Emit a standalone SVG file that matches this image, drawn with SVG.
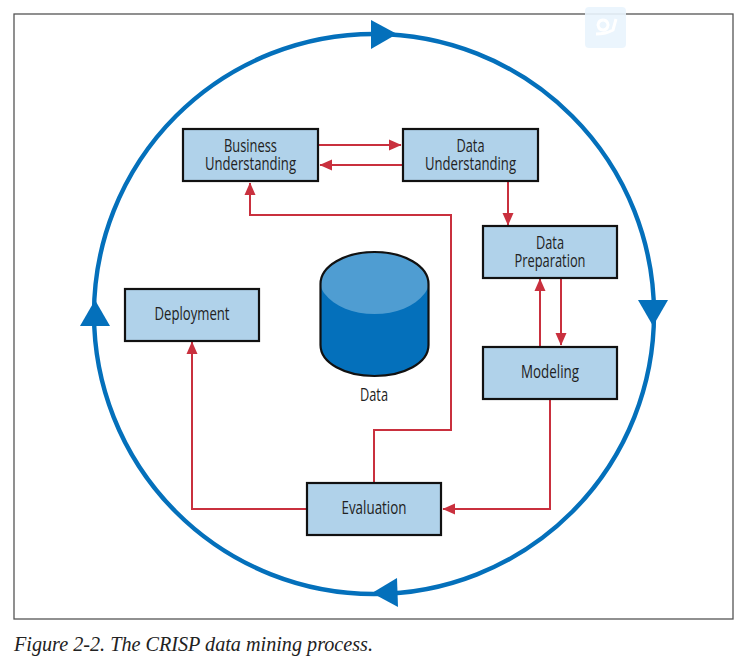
<svg xmlns="http://www.w3.org/2000/svg" width="745" height="661" viewBox="0 0 745 661">
<style>
.box{fill:#b0d2ea;stroke:#111;stroke-width:2.2}
.lbl{font-family:"Open Sans","Liberation Sans",sans-serif;font-size:17.5px;fill:#222;text-anchor:middle}
.red{fill:none;stroke:#c9303e;stroke-width:2}
.ring{fill:none;stroke:#0470bb;stroke-width:4.4}
.tri{fill:#0470bb}
</style>
<defs>
<marker id="ah" markerUnits="userSpaceOnUse" markerWidth="14" markerHeight="14" refX="12" refY="7" orient="auto"><path d="M0 1.500 L12.500 7 L0 12.500 Z" fill="#c9303e"/></marker>
</defs>
<rect width="745" height="661" fill="#fff"/>
<rect x="14" y="14" width="719" height="605" fill="#fff" stroke="#555" stroke-width="1.3"/>
<g id="watermark"><rect x="585" y="7" width="41" height="41" rx="4" fill="#e9f4fd" fill-opacity="0.9"/>
<path d="M596 34 Q606 34 613 30 L616 19 M603 20 a5 5 0 1 0 0.100 0" fill="none" stroke="#fff" stroke-width="3"/></g>
<g id="cycle">
<circle class="ring" cx="374" cy="314" r="280"/>
<polygon class="tri" points="397,34 371,20 371,49"/>
<polygon class="tri" points="653,326 638,300 668,300"/>
<polygon class="tri" points="372,593 397,578 398,607"/>
<polygon class="tri" points="95,300 80,326 110,326"/>
</g>
<g id="connectors">
<path class="red" marker-end="url(#ah)" d="M318 145 H401"/>
<path class="red" marker-end="url(#ah)" d="M402 165 H320"/>
<path class="red" marker-end="url(#ah)" d="M508 181 V225"/>
<path class="red" marker-end="url(#ah)" d="M540 346 V279"/>
<path class="red" marker-end="url(#ah)" d="M561 278 V345"/>
<path class="red" marker-end="url(#ah)" d="M550 398 V509 H443"/>
<path class="red" marker-end="url(#ah)" d="M374 483 V430 H451 V215 H250 V183"/>
<path class="red" marker-end="url(#ah)" d="M307 509 H192 V342"/>
</g>
<g id="business"><rect class="box" x="183" y="129" width="135" height="52"/><text class="lbl" x="250.500" y="152" textLength="53" lengthAdjust="spacingAndGlyphs">Business</text><text class="lbl" x="250.500" y="170" textLength="91" lengthAdjust="spacingAndGlyphs">Understanding</text></g>
<g id="understanding"><rect class="box" x="403" y="129" width="135" height="52"/><text class="lbl" x="470.500" y="152" textLength="28" lengthAdjust="spacingAndGlyphs">Data</text><text class="lbl" x="470.500" y="170" textLength="91" lengthAdjust="spacingAndGlyphs">Understanding</text></g>
<g id="preparation"><rect class="box" x="483" y="226" width="134" height="52"/><text class="lbl" x="550" y="249" textLength="28" lengthAdjust="spacingAndGlyphs">Data</text><text class="lbl" x="550" y="267" textLength="71" lengthAdjust="spacingAndGlyphs">Preparation</text></g>
<g id="modeling"><rect class="box" x="483" y="347" width="134" height="52"/><text class="lbl" x="550" y="378" textLength="58" lengthAdjust="spacingAndGlyphs">Modeling</text></g>
<g id="evaluation"><rect class="box" x="307" y="483" width="134" height="52"/><text class="lbl" x="374" y="514" textLength="65" lengthAdjust="spacingAndGlyphs">Evaluation</text></g>
<g id="deployment"><rect class="box" x="125" y="289" width="134" height="52"/><text class="lbl" x="192" y="320" textLength="75" lengthAdjust="spacingAndGlyphs">Deployment</text></g>
<g id="data">
<path d="M320.500 284 C320.500 266 345 252 374.500 252 C404 252 428.500 266 428.500 284 V345 C428.500 363 404 376 374.500 376 C345 376 320.500 363 320.500 345 Z" fill="#0470bb"/>
<path d="M320.500 284 C320.500 266 345 252 374.500 252 C404 252 428.500 266 428.500 284 C428.500 287 427 290 425 293 C414 307 396 314 374.500 314 C353 314 335 307 324 293 C322 290 320.500 287 320.500 284 Z" fill="#4f9dd2"/>
<path d="M320.500 284 C320.500 266 345 252 374.500 252 C404 252 428.500 266 428.500 284 V345 C428.500 363 404 376 374.500 376 C345 376 320.500 363 320.500 345 Z" fill="none" stroke="#111" stroke-width="2.2"/>
<text class="lbl" x="374" y="401" textLength="28" lengthAdjust="spacingAndGlyphs">Data</text>
</g>
<text x="14" y="651" font-family="Liberation Serif,serif" font-style="italic" font-size="20.500" fill="#222" textLength="359" lengthAdjust="spacingAndGlyphs">Figure 2-2. The CRISP data mining process.</text>
</svg>
